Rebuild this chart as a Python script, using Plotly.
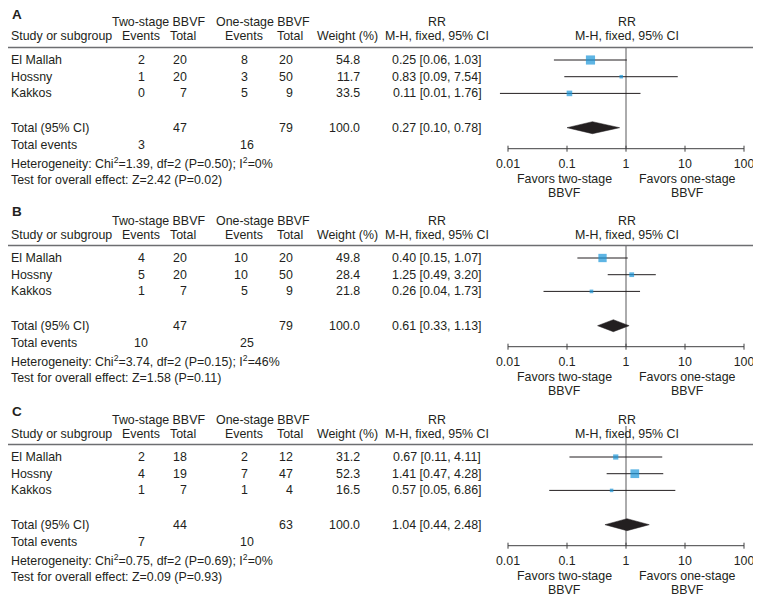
import plotly.graph_objects as go

# data (three outcomes A, B, C)
studies = ["El Mallah", "Hossny", "Kakkos"]
panel_names = ["A", "B", "C"]

two_events = [[2, 1, 0], [4, 5, 1], [2, 4, 1]]
two_total = [[20, 20, 7], [20, 20, 7], [18, 19, 7]]
one_events = [[8, 3, 5], [10, 10, 5], [2, 7, 1]]
one_total = [[20, 50, 9], [20, 50, 9], [12, 47, 4]]
weights = [[54.8, 11.7, 33.5], [49.8, 28.4, 21.8], [31.2, 52.3, 16.5]]
rr = [[0.25, 0.83, 0.11], [0.40, 1.25, 0.26], [0.67, 1.41, 0.57]]
rr_lo = [[0.06, 0.09, 0.0073], [0.15, 0.49, 0.04], [0.11, 0.47, 0.05]]
rr_hi = [[1.03, 7.54, 1.76], [1.07, 3.20, 1.73], [4.11, 4.28, 6.86]]

sum_two_total = [47, 47, 44]
sum_one_total = [79, 79, 63]
sum_two_events = [3, 10, 7]
sum_one_events = [16, 25, 10]
pooled_rr = [0.27, 0.61, 1.04]
pooled_lo = [0.10, 0.33, 0.44]
pooled_hi = [0.78, 1.13, 2.48]

chi2 = [1.39, 3.74, 0.75]
chi2_p = [0.50, 0.15, 0.69]
i2 = [0, 46, 0]
z_val = [2.42, 1.58, 0.09]
z_p = [0.02, 0.11, 0.93]

tick_vals = [0.01, 0.1, 1, 10, 100]
tick_text = ["0.01", "0.1", "1", "10", "100"]

# layout in window pixels; the page body has an 8px margin, so the
# figure is made smaller and everything is shifted by that amount
W, H = 761, 599
OFF = 8
FW, FH = W - OFF, H - OFF
panel_top = [0, 198, 397]
vline_top = [47.5, 47.5, 29]
ax_left, ax_right = 508, 744      # pixel of 0.01 and 100
pad_dec = 0.2
dec_px = (ax_right - ax_left) / 4
LEFT = 8.5
txt_color = "#231f20"
FONT = "Liberation Sans, Arial, sans-serif"
FS = 12.4


def fx(px):
    return (px - OFF) / FW


def fy(py):
    return 1 - (py - OFF) / FH


annotations = []


def txt(x, y, s, anchor="center", size=FS, bold=False):
    if bold:
        s = "<b>" + s + "</b>"
    annotations.append(dict(x=fx(x), y=fy(y), xref="paper", yref="paper", text=s,
                            showarrow=False, xanchor=anchor, yanchor="middle",
                            font=dict(family=FONT, size=size, color=txt_color)))


fig = go.Figure()
shapes = []

for p in range(3):
    t = panel_top[p]
    xa = "x" if p == 0 else "x%d" % (p + 1)
    row_y = [t + 60 + k * 16.7 for k in range(len(studies))]
    total_y = t + 127.7
    axis_y = t + 148.7

    # left table
    txt(10, t + 14, panel_names[p], "left", 13.5, True)
    txt(158, t + 22.5, "Two-stage BBVF")
    txt(263, t + 22.5, "One-stage BBVF")
    txt(437, t + 22.5, "RR")
    txt(627, t + 22.5, "RR")
    txt(LEFT, t + 36.5, "Study or subgroup", "left")
    txt(141, t + 36.5, "Events")
    txt(183, t + 36.5, "Total")
    txt(244, t + 36.5, "Events")
    txt(290, t + 36.5, "Total")
    txt(347, t + 36.5, "Weight (%)")
    txt(437, t + 36.5, "M-H, fixed, 95% CI")
    txt(627, t + 36.5, "M-H, fixed, 95% CI")
    shapes.append(dict(type="line", xref="paper", yref="paper", x0=fx(OFF), x1=fx(755),
                       y0=fy(t + 47.5), y1=fy(t + 47.5), line=dict(color="#6d6e71", width=1.5)))

    for k, name in enumerate(studies):
        y = row_y[k]
        txt(LEFT, y, name, "left")
        txt(141, y, str(two_events[p][k]))
        txt(189, y, str(two_total[p][k]), "right")
        txt(250, y, str(one_events[p][k]), "right")
        txt(295, y, str(one_total[p][k]), "right")
        txt(362, y, "%.1f" % weights[p][k], "right")
        txt(437, y, "%.2f [%.2f, %.2f]" % (rr[p][k], rr_lo[p][k], rr_hi[p][k]))

    txt(LEFT, total_y, "Total (95% CI)", "left")
    txt(189, total_y, str(sum_two_total[p]), "right")
    txt(295, total_y, str(sum_one_total[p]), "right")
    txt(362, total_y, "%.1f" % sum(weights[p]), "right")
    txt(437, total_y, "%.2f [%.2f, %.2f]" % (pooled_rr[p], pooled_lo[p], pooled_hi[p]))
    txt(LEFT, t + 145, "Total events", "left")
    txt(141, t + 145, str(sum_two_events[p]))
    txt(247, t + 145, str(sum_one_events[p]))
    txt(LEFT, t + 162.7, "Heterogeneity: Chi<sup>2</sup>=%.2f, df=%d (P=%.2f); I<sup>2</sup>=%d%%"
        % (chi2[p], len(studies) - 1, chi2_p[p], i2[p]), "left")
    txt(LEFT, t + 180, "Test for overall effect: Z=%.2f (P=%.2f)" % (z_val[p], z_p[p]), "left")

    # right forest plot
    txt(564, t + 179, "Favors two-stage")
    txt(564, t + 193, "BBVF")
    txt(687, t + 179, "Favors one-stage")
    txt(687, t + 193, "BBVF")

    fig.add_trace(go.Scatter(x=[1, 1], y=[t + vline_top[p], axis_y], mode="lines",
                             line=dict(color="#58595b", width=1), xaxis=xa, yaxis="y",
                             hoverinfo="skip"))
    fig.add_trace(go.Scatter(x=[tick_vals[0], tick_vals[-1]], y=[axis_y, axis_y], mode="lines",
                             line=dict(color="#414042", width=1), xaxis=xa, yaxis="y",
                             hoverinfo="skip"))
    tx, ty = [], []
    for v in tick_vals:
        tx += [v, v, None]
        ty += [axis_y - 3, axis_y + 3, None]
    fig.add_trace(go.Scatter(x=tx, y=ty, mode="lines", line=dict(color="#414042", width=1),
                             xaxis=xa, yaxis="y", hoverinfo="skip"))

    cx, cy = [], []
    for k in range(len(studies)):
        cx += [rr_lo[p][k], rr_hi[p][k], None]
        cy += [row_y[k], row_y[k], None]
    fig.add_trace(go.Scatter(x=cx, y=cy, mode="lines", line=dict(color="#231f20", width=1),
                             xaxis=xa, yaxis="y"))
    fig.add_trace(go.Scatter(x=rr[p], y=row_y, mode="markers", xaxis=xa, yaxis="y",
                             marker=dict(symbol="square", color="#1996d8",
                                         size=[max(3.5, w / 6) for w in weights[p]],
                                         line=dict(width=0)),
                             cliponaxis=False))
    fig.add_trace(go.Scatter(x=[pooled_lo[p], pooled_rr[p], pooled_hi[p], pooled_rr[p], pooled_lo[p]],
                             y=[total_y, total_y - 6, total_y, total_y + 6, total_y],
                             mode="lines", fill="toself", fillcolor="#231f20",
                             line=dict(color="#231f20", width=0.5), xaxis=xa, yaxis="y"))

    ax_key = "xaxis" if p == 0 else "xaxis%d" % (p + 1)
    fig.layout[ax_key] = dict(
        type="log", range=[-2 - pad_dec, 2 + pad_dec],
        domain=[fx(ax_left - pad_dec * dec_px), fx(ax_right + pad_dec * dec_px)],
        anchor="free", position=fy(axis_y),
        showline=False, showgrid=False, zeroline=False,
        tickvals=tick_vals, ticktext=tick_text,
        ticks="outside", ticklen=3, tickcolor="rgba(0,0,0,0)",
        tickfont=dict(family=FONT, size=FS, color=txt_color),
        fixedrange=True,
    )

fig.update_layout(
    width=FW, height=FH,
    margin=dict(l=0, r=0, t=0, b=0),
    paper_bgcolor="white", plot_bgcolor="rgba(0,0,0,0)",
    showlegend=False,
    yaxis=dict(range=[OFF + FH, OFF], domain=[0, 1], visible=False, fixedrange=True),
    annotations=annotations,
    shapes=shapes,
)

fig.write_html("out.html")
